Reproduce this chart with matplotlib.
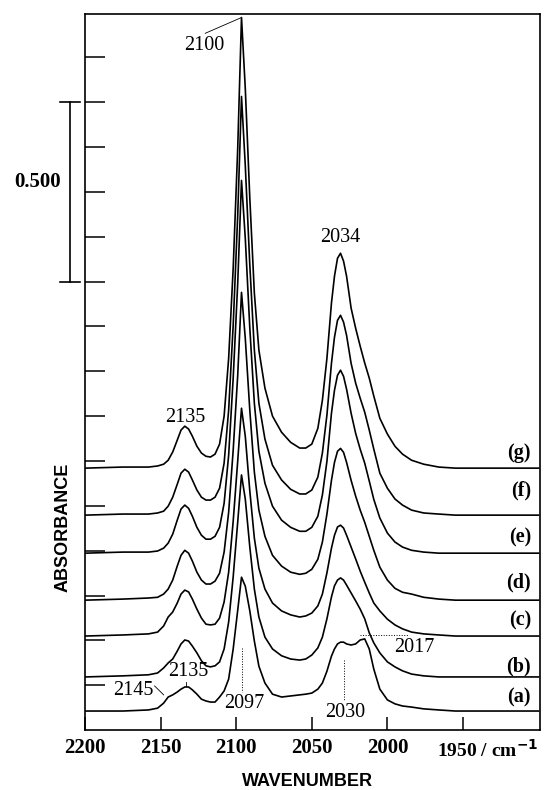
import matplotlib
matplotlib.use("Agg")
import matplotlib.pyplot as plt
import numpy as np

# wavenumber grid (cm-1) shared by all spectra
wavenumber = [2200, 2175, 2158, 2152, 2148, 2145, 2142, 2139, 2136.5, 2134,
              2131.5, 2129, 2126, 2123, 2120, 2117, 2114, 2111, 2108, 2105,
              2102, 2099, 2096.5, 2094, 2091, 2088, 2085, 2081, 2076, 2070,
              2064, 2058, 2054, 2050, 2046, 2043, 2040, 2037, 2035, 2033,
              2031, 2029, 2027, 2024, 2021, 2018, 2015, 2012, 2009, 2005,
              2000, 1995, 1990, 1984, 1976, 1966, 1955, 1940, 1920, 1900]

# absorbance above each spectrum's own baseline
spec_a = [0, 0, .003, .008, .022, .039, .045, .053, .061, .067,
          .067, .059, .047, .033, .028, .025, .025, .039, .056, .089,
          .173, .281, .373, .348, .279, .195, .125, .078, .047, .039,
          .042, .045, .047, .050, .061, .078, .111, .153, .173, .187,
          .192, .192, .187, .184, .187, .198, .201, .173, .117, .061,
          .031, .020, .014, .011, .006, .003, 0, 0, 0, 0]
spec_b = [0, .003, .006, .011, .025, .039, .050, .072, .092, .103,
          .100, .086, .067, .045, .031, .028, .031, .042, .078, .153,
          .279, .432, .563, .496, .362, .245, .167, .111, .078, .059,
          .050, .047, .050, .061, .081, .111, .162, .223, .254, .270,
          .276, .270, .256, .234, .212, .189, .162, .123, .095, .067,
          .042, .028, .017, .008, .003, 0, 0, 0, 0, 0]
spec_c = [0, .003, .006, .011, .028, .053, .067, .092, .117, .128,
          .123, .103, .075, .050, .033, .031, .033, .050, .095, .178,
          .320, .488, .635, .557, .404, .273, .189, .131, .092, .070,
          .059, .053, .056, .064, .084, .117, .176, .245, .281, .304,
          .309, .301, .281, .248, .215, .181, .150, .120, .092, .070,
          .047, .031, .020, .011, .006, .003, 0, 0, 0, 0]
spec_d = [0, .003, .006, .008, .017, .031, .056, .095, .125, .139,
          .131, .109, .078, .056, .045, .045, .053, .075, .134, .245,
          .418, .627, .858, .730, .529, .357, .251, .178, .125, .095,
          .078, .072, .075, .086, .114, .162, .240, .334, .384, .415,
          .423, .412, .384, .334, .290, .251, .217, .178, .139, .092,
          .056, .033, .022, .017, .008, .003, 0, 0, 0, 0]
spec_e = [0, .003, .003, .006, .014, .028, .053, .092, .123, .134,
          .125, .103, .072, .050, .039, .039, .047, .072, .139, .273,
          .488, .752, 1.039, .878, .627, .418, .284, .195, .131, .092,
          .072, .061, .061, .072, .103, .162, .256, .390, .454, .496,
          .510, .493, .457, .390, .334, .290, .251, .201, .150, .098,
          .056, .031, .017, .008, .003, 0, 0, 0, 0, 0]
spec_f = [0, .003, .003, .006, .011, .025, .050, .086, .117, .128,
          .120, .098, .070, .050, .042, .042, .050, .075, .145, .293,
          .529, .836, 1.167, .975, .697, .460, .312, .212, .139, .098,
          .072, .059, .059, .070, .106, .173, .279, .423, .496, .543,
          .557, .538, .501, .423, .368, .326, .287, .237, .184, .117,
          .075, .045, .028, .014, .006, .003, 0, 0, 0, 0]
spec_g = [0, .003, .003, .006, .011, .022, .045, .078, .106, .117,
          .109, .089, .061, .042, .033, .031, .039, .067, .145, .306,
          .557, .892, 1.256, 1.059, .752, .488, .329, .223, .145, .100,
          .072, .056, .056, .067, .111, .189, .306, .460, .535, .585,
          .599, .577, .535, .446, .390, .340, .293, .251, .201, .139,
          .095, .061, .039, .022, .011, .003, 0, 0, 0, 0]

spectra = [spec_a, spec_b, spec_c, spec_d, spec_e, spec_f, spec_g]
offsets = [.053, .148, .262, .362, .493, .599, .730]   # baseline of each trace
curve_labels = ['(a)', '(b)', '(c)', '(d)', '(e)', '(f)', '(g)']
label_y = [.092, .176, .306, .410, .538, .669, .772]

xtick_vals = [2200, 2150, 2100, 2050, 2000, 1950]
xtick_text = ['2200', '2150', '2100', '2050', '2000', '']
ytick_vals = [0.125 * k for k in range(1, 16)]

serif = 'Liberation Serif'
sans = 'Liberation Sans'

fig = plt.figure(figsize=(5.45, 7.9), dpi=100)
ax = fig.add_axes([0.156, 0.0759, 0.835, 0.906])

for s, off in zip(spectra, offsets):
    ax.plot(wavenumber, np.array(s) + off, color='black', lw=1.2,
            solid_joinstyle='round')

ax.set_xlim(2200, 1899)
ax.set_ylim(0, 1.995)

for sp in ax.spines.values():
    sp.set_linewidth(1.2)

ax.set_xticks(xtick_vals)
ax.set_xticklabels(xtick_text, fontfamily=serif, fontweight='bold', fontsize=15)
ax.tick_params(axis='x', direction='in', length=9.5, width=1.1, pad=6)
ax.set_yticks(ytick_vals)
ax.set_yticklabels([])
ax.tick_params(axis='y', direction='in', length=14.5, width=1.1)

# last tick label carries the unit
ax.text(1967.5, -0.025, '1950 / cm$^{\\mathbf{-1}}$', fontfamily=serif, fontweight='bold',
        fontsize=14, ha='left', va='top')

fig.text(0.565, 1 - 782 / 790, 'WAVENUMBER', fontfamily=sans, fontweight='bold',
         fontsize=13, ha='center', va='center')
fig.text(0.115, 1 - 527 / 790, 'ABSORBANCE', fontfamily=sans, fontweight='bold',
         fontsize=13, ha='center', va='center', rotation=90)

# 0.500 scale bar left of the axis
trans = matplotlib.transforms.blended_transform_factory(ax.transAxes, ax.transData)
ax.plot([-0.033, -0.033], [1.25, 1.75], color='black', lw=1.2, transform=trans, clip_on=False)
for yy in [1.25, 1.75]:
    ax.plot([-0.055, -0.011], [yy, yy], color='black', lw=1.2, transform=trans, clip_on=False)
ax.text(-0.105, 1.527, '0.500', fontfamily=serif, fontweight='bold', fontsize=15,
        ha='center', va='center', transform=trans)

# trace labels
for lab, yy in zip(curve_labels, label_y):
    ax.text(1905, yy, lab, fontfamily=serif, fontweight='bold', fontsize=14.5,
            ha='right', va='center')

# band annotations
ann = dict(fontfamily=serif, fontsize=14.5, ha='center', va='center')
ax.text(2121, 1.909, '2100', **ann)
ax.plot([2120.5, 2096.5], [1.942, 1.986], color='black', lw=0.6)
ax.text(2031, 1.374, '2034', **ann)
ax.text(2134, 0.872, '2135', **ann)
ax.text(2132, 0.162, '2135', **ann)
ax.plot([2133, 2133], [0.134, 0.123], color='black', lw=0.6)
ax.text(2168, 0.109, '2145', **ann)
ax.plot([2154, 2148], [0.123, 0.098], color='black', lw=0.6)
ax.text(2095, 0.075, '2097', **ann)
ax.plot([2096, 2096], [0.228, 0.106], color='black', lw=0.7, ls=':')
ax.text(2028, 0.050, '2030', **ann)
ax.plot([2029, 2029], [0.195, 0.084], color='black', lw=0.7, ls=':')
ax.text(1982, 0.231, '2017', **ann)
ax.plot([2018, 1986], [0.265, 0.265], color='black', lw=0.7, ls=':')

plt.savefig('out.png', dpi=100)
